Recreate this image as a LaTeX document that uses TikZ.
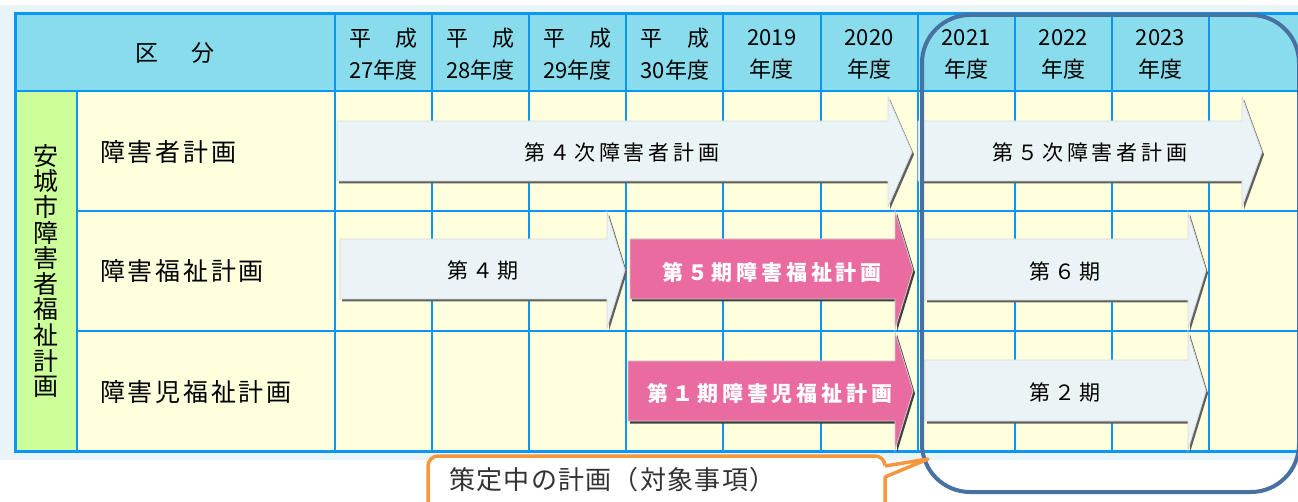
\documentclass[tikz,border=0pt]{standalone}
\usepackage{fontspec}
\setmainfont{Noto Sans CJK JP}
\newfontfamily\lblfont[LetterSpace=18]{Noto Sans CJK JP}
\newfontfamily\rowfont[LetterSpace=11]{Noto Sans CJK JP}
\newfontfamily\notefont[LetterSpace=5]{Noto Sans CJK JP}
\usetikzlibrary{shadows}
\definecolor{bgblue}{RGB}{232,244,248}
\definecolor{hdr}{RGB}{136,220,236}
\definecolor{bodyc}{RGB}{255,255,222}
\definecolor{grn}{RGB}{204,255,153}
\definecolor{gridc}{RGB}{10,150,245}
\definecolor{arrc}{RGB}{234,243,245}
\definecolor{pinkc}{RGB}{233,107,160}
\definecolor{navyc}{RGB}{72,112,160}
\definecolor{orngc}{RGB}{247,150,60}
\newcommand\heisei[1]{\setbox0\hbox{#1年度}\vbox{\hbox to\wd0{平\hfill 成}\box0}}
\newcommand\planarrow[8]{\path[#1] (#2,#5) -- (#3,#5) -- (#3,#7) -- (#4,{(#7+#8)/2}) -- (#3,#8) -- (#3,#6) -- (#2,#6) -- cycle;}
\tikzset{
  gridline/.style={draw=gridc, line width=2pt},
  lightarrow/.style={fill=arrc, draw=gray!30, line width=0.8pt,
    drop shadow={shadow xshift=2pt, shadow yshift=-2.5pt, fill=gray!75!black, opacity=1}},
  pinkarrow/.style={fill=pinkc, draw=gray!40, line width=0.8pt,
    drop shadow={shadow xshift=2pt, shadow yshift=-2.5pt, fill=black!75, opacity=1}},
  yr/.style={inner sep=0, font=\fontsize{22}{32}\selectfont, align=center, text=black},
  rowlbl/.style={inner sep=0, anchor=west, font=\rowfont\fontsize{25}{30}\selectfont, text=black},
  arrlbl/.style={inner sep=0, font=\lblfont\fontsize{21}{25}\selectfont, text=black},
  pinklbl/.style={inner sep=0, font=\lblfont\bfseries\fontsize{21}{25}\selectfont, text=white},
}
\begin{document}
\begin{tikzpicture}[x=1pt, y=-1pt]
\useasboundingbox (0,0) rectangle (1298,502);
\clip (0,0) rectangle (1298,502);
% background
\fill[white] (0,0) rectangle (1298,502);
\fill[bgblue] (0,5) rectangle (1298,460);
% table fills
\fill[hdr] (15,14) rectangle (1310,91);
\fill[grn] (15,91) rectangle (77,451);
\fill[bodyc] (77,91) rectangle (1310,451);
% grid
\draw[gridline] (15,91) -- (1310,91);
\draw[gridline] (77,211) -- (1310,211);
\draw[gridline] (77,331) -- (1310,331);
\draw[gridline] (77,91) -- (77,451);
\foreach \k in {0,...,10} {\draw[gridline] ({335+97.1*\k},14) -- ({335+97.1*\k},451);}
\draw[gridc, line width=3pt] (1310,14) -- (15,14) -- (15,451) -- (1310,451);
% arrows
\planarrow{lightarrow}{337}{888}{912}{121}{181}{97}{207}
\planarrow{lightarrow}{918}{1242}{1262}{121}{181}{97}{207}
\planarrow{lightarrow}{340}{607}{625}{239}{299}{212}{328}
\planarrow{pinkarrow}{630}{895}{913}{239}{299}{211}{329}
\planarrow{lightarrow}{925}{1188}{1206}{239}{300}{212}{329}
\planarrow{pinkarrow}{628}{895}{913}{361}{421}{332}{450}
\planarrow{lightarrow}{925}{1188}{1206}{360}{421}{332}{450}
% header texts
\node[inner sep=0, font=\fontsize{23}{26}\selectfont] (kubun) at (175,53) {区\hspace{1.4em}分};
\node[yr] (y27) at (383.55,54) {\heisei{27}};
\node[yr] (y28) at (480.65,54) {\heisei{28}};
\node[yr] (y29) at (577.75,54) {\heisei{29}};
\node[yr] (y30) at (674.85,54) {\heisei{30}};
\node[yr] (y2019) at (771.95,54) {2019\\年度};
\node[yr] (y2020) at (869.05,54) {2020\\年度};
\node[yr] (y2021) at (966.15,54) {2021\\年度};
\node[yr] (y2022) at (1063.25,54) {2022\\年度};
\node[yr] (y2023) at (1160.35,54) {2023\\年度};
% left texts
\node[inner sep=0, align=center, font=\fontsize{25}{25.6}\selectfont, text=black] (city) at (46,271)
  {安\\城\\市\\障\\害\\者\\福\\祉\\計\\画};
\node[rowlbl] (r1) at (100,152) {障害者計画};
\node[rowlbl] (r2) at (100,271) {障害福祉計画};
\node[rowlbl] (r3) at (100,392) {障害児福祉計画};
% arrow labels
\node[arrlbl] (a4) at (622,152) {第４次障害者計画};
\node[arrlbl] (a5) at (1090,152) {第５次障害者計画};
\node[arrlbl] (b4) at (483,271) {第４期};
\node[pinklbl] (b5) at (772,272) {第５期障害福祉計画};
\node[arrlbl] (b6) at (1065,272) {第６期};
\node[pinklbl] (c1) at (770,393) {第１期障害児福祉計画};
\node[arrlbl] (c2) at (1065,393) {第２期};
% focus frame
\draw[navyc, line width=4pt, rounded corners=48pt] (922,15) rectangle (1299,492);
% callout
\draw[orngc, line width=3.5pt, fill=white, rounded corners=10pt] (428,540) rectangle (885,456);
\fill[white] (882,466) -- (928,459) -- (882,477) -- cycle;
\draw[orngc, line width=3.5pt, line join=round] (885,466) -- (928,459) -- (885,477);
\node[inner sep=0, anchor=west, font=\notefont\fontsize{26}{30}\selectfont, text=black!80] (note) at (449,480) {策定中の計画（対象事項）};
\end{tikzpicture}
\end{document}
